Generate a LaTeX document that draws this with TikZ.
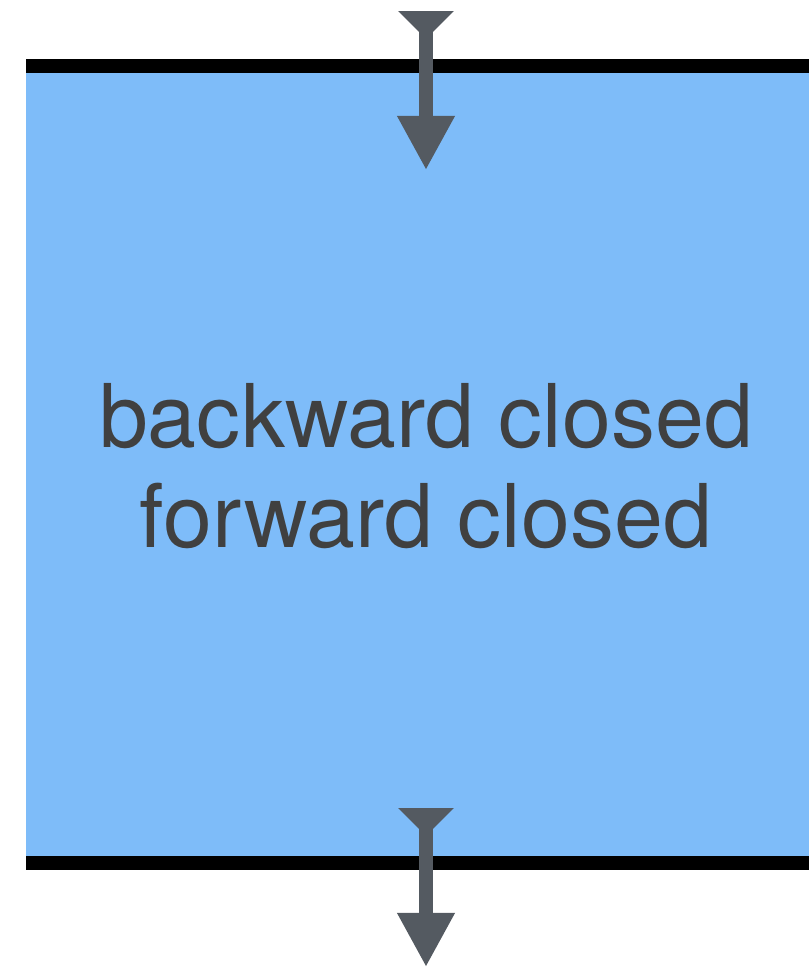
\documentclass[tikz,border=0pt]{standalone}
\usepackage{fontspec}
\setmainfont{TeX Gyre Heros}
\usetikzlibrary{arrows.meta}
\definecolor{boxblue}{HTML}{7EBCF9}
\definecolor{arrowgray}{HTML}{545A61}
\definecolor{textgray}{HTML}{404040}
\begin{document}
\begin{tikzpicture}[x=0.01cm, y=-0.01cm,
	flow/.style={arrowgray, line width=0.13cm,
		-{Triangle[width=0.54cm, length=0.54cm]}},
	flowtail/.style={{Triangle[reversed, width=0.54cm, length=0.28cm]}-{Triangle[width=0.54cm, length=0.54cm]}},
	edge/.style={black, line width=0.14cm}]
	\useasboundingbox (0, 0) rectangle (809, 972);
	\fill[boxblue] (26, 73) rectangle (809, 856);
	\draw[edge] (26, 66) -- (809, 66); % top
	\draw[edge] (26, 863) -- (809, 863); % bottom
	\node[text=textgray, font=\fontsize{25}{28.5}\selectfont, align=center] (label) at (426, 466) {backward closed\\forward closed};
	\coordinate (in1) at (426, 11);
	\coordinate (in2) at (426, 170);
	\coordinate (out1) at (426, 808);
	\coordinate (out2) at (426, 967);
	\draw[flow, flowtail] (in1) -- (in2);
	\draw[flow, flowtail] (out1) -- (out2);
\end{tikzpicture}
\end{document}
